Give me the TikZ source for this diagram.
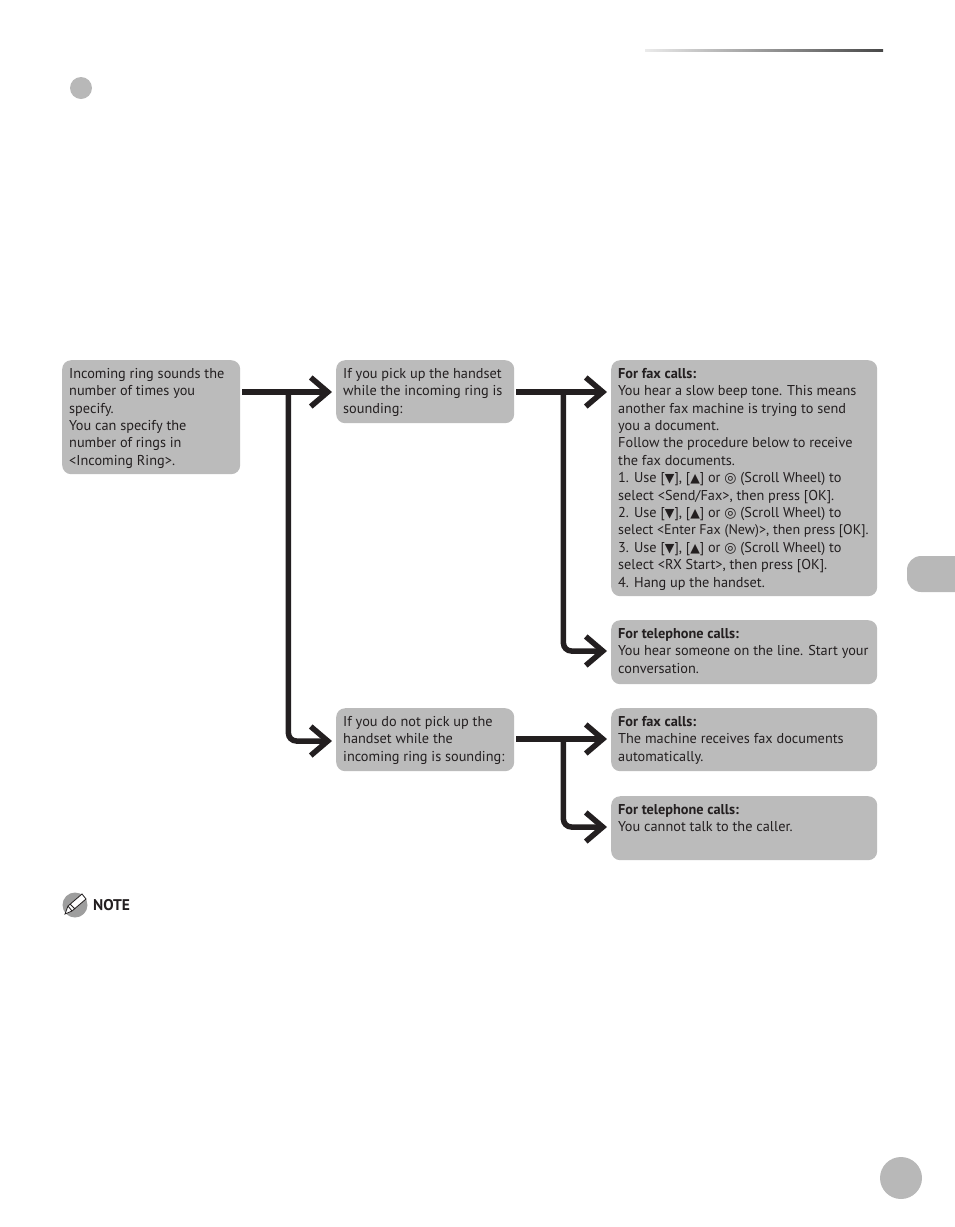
\documentclass[tikz,border=0pt]{standalone}
\usepackage{fontspec}
\setmainfont{PT Sans}
\newfontfamily\sym{DejaVu Sans}
\usetikzlibrary{arrows.meta,calc}
\definecolor{ink}{HTML}{231F20}
\definecolor{boxgray}{HTML}{BBBBBB}
\newcommand{\bt}[3]{\parbox[c][#2pt][t]{#1pt}{\fontsize{14.3pt}{17.4pt}\selectfont\raggedright\vspace*{8pt}#3\par}}
\newcommand{\dn}{{\sym\fontsize{12.5pt}{12pt}\selectfont ▼}}
\newcommand{\up}{{\sym\fontsize{12.5pt}{12pt}\selectfont ▲}}
\newcommand{\wh}{{\sym\fontsize{14pt}{13pt}\selectfont ◎}}
\tikzset{
  flowbox/.style={fill=boxgray,text=ink,rounded corners=9pt,inner xsep=7pt,inner ysep=0pt,anchor=north west},
  link/.style={draw=ink,line width=5.5pt,-{Straight Barb[length=17pt,width=29pt,line width=5.5pt]},shorten >=4pt},
  branch/.style={link,rounded corners=8pt}
}
\begin{document}
\begin{tikzpicture}[x=1pt,y=-1pt]
\useasboundingbox (0,0) rectangle (954,1227);
% page furniture
\shade[left color=white!92!black,right color=black!72] (645,49.5) rectangle (883,51.5);
\fill[black!28] (81,88) circle (11);
\fill[black!28,rounded corners=14pt] (970,556) -- (907,556) -- (907,592) -- (970,592) -- cycle;
\fill[black!28] (901,1178) circle (21);
% note
\fill[black!38] (75,905) circle (12.5);
\fill[white] (65,914) -- (68,906) -- (82,894) -- (86,899) -- (72,911) -- cycle;
\draw[ink,line width=0.8pt] (65,914) -- (68,906) -- (82,894) -- (86,899) -- (72,911) -- cycle (68,906) -- (72,911) (70,904) -- (75,909);
\node[anchor=west,inner sep=0pt,text=ink] (note) at (93,905) {\fontsize{15.5pt}{16pt}\selectfont\bfseries NOTE};
% boxes
\node[flowbox] (a) at (62,360) {\bt{164}{114}{Incoming ring sounds the\\number of times you\\specify.\\You can specify the\\number of rings in\\<Incoming Ring>.}};
\node[flowbox] (b) at (336,360) {\bt{164}{63}{If you pick up the handset\\while the incoming ring is\\sounding:}};
\node[flowbox] (c) at (336,708) {\bt{164}{63}{If you do not pick up the\\handset while the\\incoming ring is sounding:}};
\node[flowbox] (d) at (611,360) {\bt{252}{236}{\textbf{For fax calls:}\\You hear a slow beep tone. This means\\another fax machine is trying to send\\you a document.\\Follow the procedure below to receive\\the fax documents.\\1. Use [\dn], [\up] or \wh{} (Scroll Wheel) to\\select <Send/Fax>, then press [OK].\\2. Use [\dn], [\up] or \wh{} (Scroll Wheel) to\\\makebox[252pt][l]{\fontsize{14pt}{17.4pt}\selectfont select <Enter Fax (New)>, then press [OK].}\\3. Use [\dn], [\up] or \wh{} (Scroll Wheel) to\\select <RX Start>, then press [OK].\\4. Hang up the handset.}};
\node[flowbox] (e) at (611,620) {\bt{252}{64}{\textbf{For telephone calls:}\\You hear someone on the line. Start your\\conversation.}};
\node[flowbox] (f) at (611,708) {\bt{252}{63}{\textbf{For fax calls:}\\The machine receives fax documents\\automatically.}};
\node[flowbox] (g) at (611,796) {\bt{252}{64}{\textbf{For telephone calls:}\\You cannot talk to the caller.}};
% connector anchors
\coordinate (aout) at ($(a.north east)+(2,32)$);
\coordinate (bin) at ($(b.north west)+(0,32)$);
\coordinate (bout) at ($(b.north east)+(2,32)$);
\coordinate (dupin) at ($(d.north west)+(0,32)$);
\coordinate (cout) at ($(c.north east)+(2,31)$);
\coordinate (cin) at ($(c.north west)+(0,33)$);
\coordinate (ein) at ($(e.north west)+(0,31)$);
\coordinate (fin) at ($(f.north west)+(0,31)$);
\coordinate (gin) at ($(g.north west)+(0,31)$);
\coordinate (j1) at ($(aout)+(46,0)$);
\coordinate (j2) at ($(bout)+(47,0)$);
\coordinate (j3) at ($(cout)+(47,0)$);
% connectors
\draw[link] (aout) -- (bin);
\draw[branch] (j1) |- (cin);
\draw[link] (bout) -- (dupin);
\draw[branch] (j2) |- (ein);
\draw[link] (cout) -- (fin);
\draw[branch] (j3) |- (gin);
\end{tikzpicture}
\end{document}
